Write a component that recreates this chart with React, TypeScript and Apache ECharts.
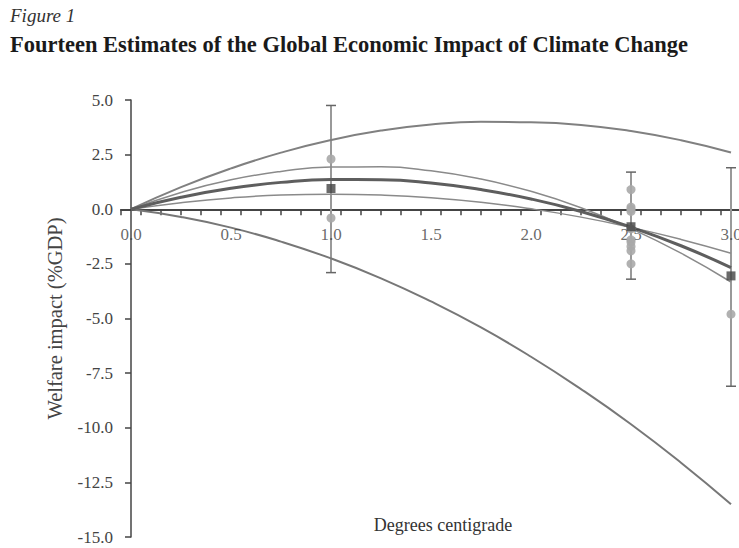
import React, { useEffect, useRef } from "react";
import * as echarts from "echarts";

const FONT = "'Liberation Serif', 'DejaVu Serif', serif";

// curve sample positions (degrees centigrade)
const xs = [0, 0.25, 0.5, 0.75, 1.0, 1.25, 1.5, 1.75, 2.0, 2.25, 2.5, 2.75, 3.0];
// fitted curves (% GDP)
const curveTop = [0, 1.01, 1.87, 2.59, 3.17, 3.6, 3.88, 4.0, 3.98, 3.86, 3.58, 3.16, 2.6];
const curveUpper = [0, 0.77, 1.35, 1.73, 1.93, 1.94, 1.76, 1.38, 0.82, 0.07, -0.88, -2.01, -3.33];
const curveMain = [0, 0.55, 0.96, 1.23, 1.36, 1.35, 1.2, 0.9, 0.47, -0.1, -0.82, -1.67, -2.67];
const curveLower = [0, 0.3, 0.52, 0.65, 0.69, 0.65, 0.53, 0.32, 0.02, -0.36, -0.83, -1.38, -2.01];
const curveBottom = [0, -0.35, -0.84, -1.48, -2.25, -3.16, -4.22, -5.41, -6.75, -8.23, -9.84, -11.6, -13.5];

// individual estimates
const estX = [1.0, 1.0, 2.5, 2.5, 2.5, 2.5, 2.5, 2.5, 2.5, 2.5, 2.5, 2.5, 3.0];
const estY = [2.3, -0.4, 0.9, 0.1, 0.0, -0.1, -0.9, -1.4, -1.5, -1.7, -1.9, -2.5, -4.8];

// averages per warming level
const meanX = [1.0, 2.5, 3.0];
const meanY = [0.95, -0.8, -3.05];

// error bars [x, low, high]
const barX = [1.0, 2.5, 3.0];
const barLow = [-2.9, -3.2, -8.1];
const barHigh = [4.75, 1.7, 1.9];

const xLabels = [0, 0.5, 1.0, 1.5, 2.0, 2.5, 3.0];
const xMinorTicks: number[] = [];
for (let k = 0; k <= 30; k++) xMinorTicks.push(Math.round((-0.05 + 0.1 * k) * 100) / 100);

const pairs = (ys: number[]) => xs.map((x, i) => [x, ys[i]]);

export default function App() {
  const ref = useRef<HTMLDivElement>(null);
  useEffect(() => {
    if (!ref.current) return;
    const chart = echarts.init(ref.current, null, { renderer: "svg" });
    const curve = (name: string, ys: number[], color: string, width: number) => ({
      name,
      type: "line",
      data: pairs(ys),
      smooth: true,
      showSymbol: false,
      symbol: "none",
      lineStyle: { color, width },
      z: 2,
    });
    chart.setOption({
      animation: false,
      backgroundColor: "#fff",
      textStyle: { fontFamily: FONT },
      title: [
        {
          text: "Figure 1",
          left: 10,
          top: 6,
          padding: 0,
          textStyle: { fontFamily: FONT, fontStyle: "italic", fontWeight: "normal", fontSize: 19, color: "#333" },
        },
        {
          text: "Fourteen Estimates of the Global Economic Impact of Climate Change",
          left: 10,
          top: 33,
          padding: 0,
          textStyle: { fontFamily: FONT, fontWeight: "bold", fontSize: 22.5, color: "#1a1a1a" },
        },
      ],
      graphic: [
        {
          type: "text",
          x: 443,
          y: 525,
          style: {
            text: "Degrees centigrade",
            align: "center",
            verticalAlign: "middle",
            font: `18px ${FONT}`,
            fill: "#333",
          },
        },
      ],
      grid: { left: 121, right: 0, top: 100, bottom: 11, containLabel: false, outerBoundsMode: "none" },
      xAxis: {
        type: "value",
        min: -0.05,
        max: 3.04,
        splitLine: { show: false },
        axisLine: { onZero: true, lineStyle: { color: "#444", width: 2 } },
        axisTick: { show: true, length: 6, customValues: xMinorTicks, lineStyle: { color: "#444", width: 1.5 } },
        axisLabel: { show: false },
      },
      yAxis: {
        type: "value",
        min: -15,
        max: 5,
        interval: 2.5,
        name: "Welfare impact (%GDP)",
        nameLocation: "middle",
        nameGap: 56,
        nameTextStyle: { fontFamily: FONT, fontSize: 20.5, color: "#444" },
        splitLine: { show: false },
        axisLine: { show: true, lineStyle: { color: "#444", width: 1.5 } },
        axisTick: { show: true, length: 6, lineStyle: { color: "#444", width: 1.5 } },
        axisLabel: {
          formatter: (v: number) => v.toFixed(1),
          margin: 8,
          fontFamily: FONT,
          fontSize: 17,
          color: "#444",
        },
      },
      series: [
        {
          type: "custom",
          name: "range",
          data: barX.map((x, i) => [x, barLow[i], barHigh[i]]),
          renderItem: (params: any, api: any) => {
            const x = api.value(0);
            const lo = api.coord([x, api.value(1)]);
            const hi = api.coord([x, api.value(2)]);
            const cap = 5;
            const st = { stroke: "#999", lineWidth: 2 };
            const capSt = { stroke: "#666", lineWidth: 1.5 };
            return {
              type: "group",
              children: [
                { type: "line", shape: { x1: lo[0], y1: lo[1], x2: hi[0], y2: hi[1] }, style: st },
                { type: "line", shape: { x1: lo[0] - cap, y1: lo[1], x2: lo[0] + cap, y2: lo[1] }, style: capSt },
                { type: "line", shape: { x1: hi[0] - cap, y1: hi[1], x2: hi[0] + cap, y2: hi[1] }, style: capSt },
              ],
            };
          },
          z: 1,
        },
        curve("top", curveTop, "#808080", 2),
        curve("upper", curveUpper, "#8a8a8a", 1.5),
        curve("lower", curveLower, "#8a8a8a", 1.5),
        curve("bottom", curveBottom, "#777", 2),
        curve("main", curveMain, "#5e5e5e", 3),
        {
          type: "scatter",
          name: "xlabels",
          data: xLabels.map((v) => [v, 0]),
          symbolSize: 0,
          silent: true,
          label: {
            show: true,
            position: "bottom",
            distance: 17,
            formatter: (p: any) => p.value[0].toFixed(1),
            fontFamily: FONT,
            fontSize: 17,
            color: "#444",
          },
          z: 3,
        },
        {
          type: "scatter",
          name: "estimates",
          data: estX.map((x, i) => [x, estY[i]]),
          symbol: "circle",
          symbolSize: 9,
          itemStyle: { color: "#a9a9a9", opacity: 0.9 },
          z: 4,
        },
        {
          type: "scatter",
          name: "mean",
          data: meanX.map((x, i) => [x, meanY[i]]),
          symbol: "rect",
          symbolSize: 9,
          itemStyle: { color: "#444" },
          z: 5,
        },
      ],
    });
    return () => chart.dispose();
  }, []);
  return (
    <div
      ref={ref}
      style={{ position: "absolute", left: 0, top: 0, width: 739, height: 548, background: "#fff" }}
    />
  );
}
